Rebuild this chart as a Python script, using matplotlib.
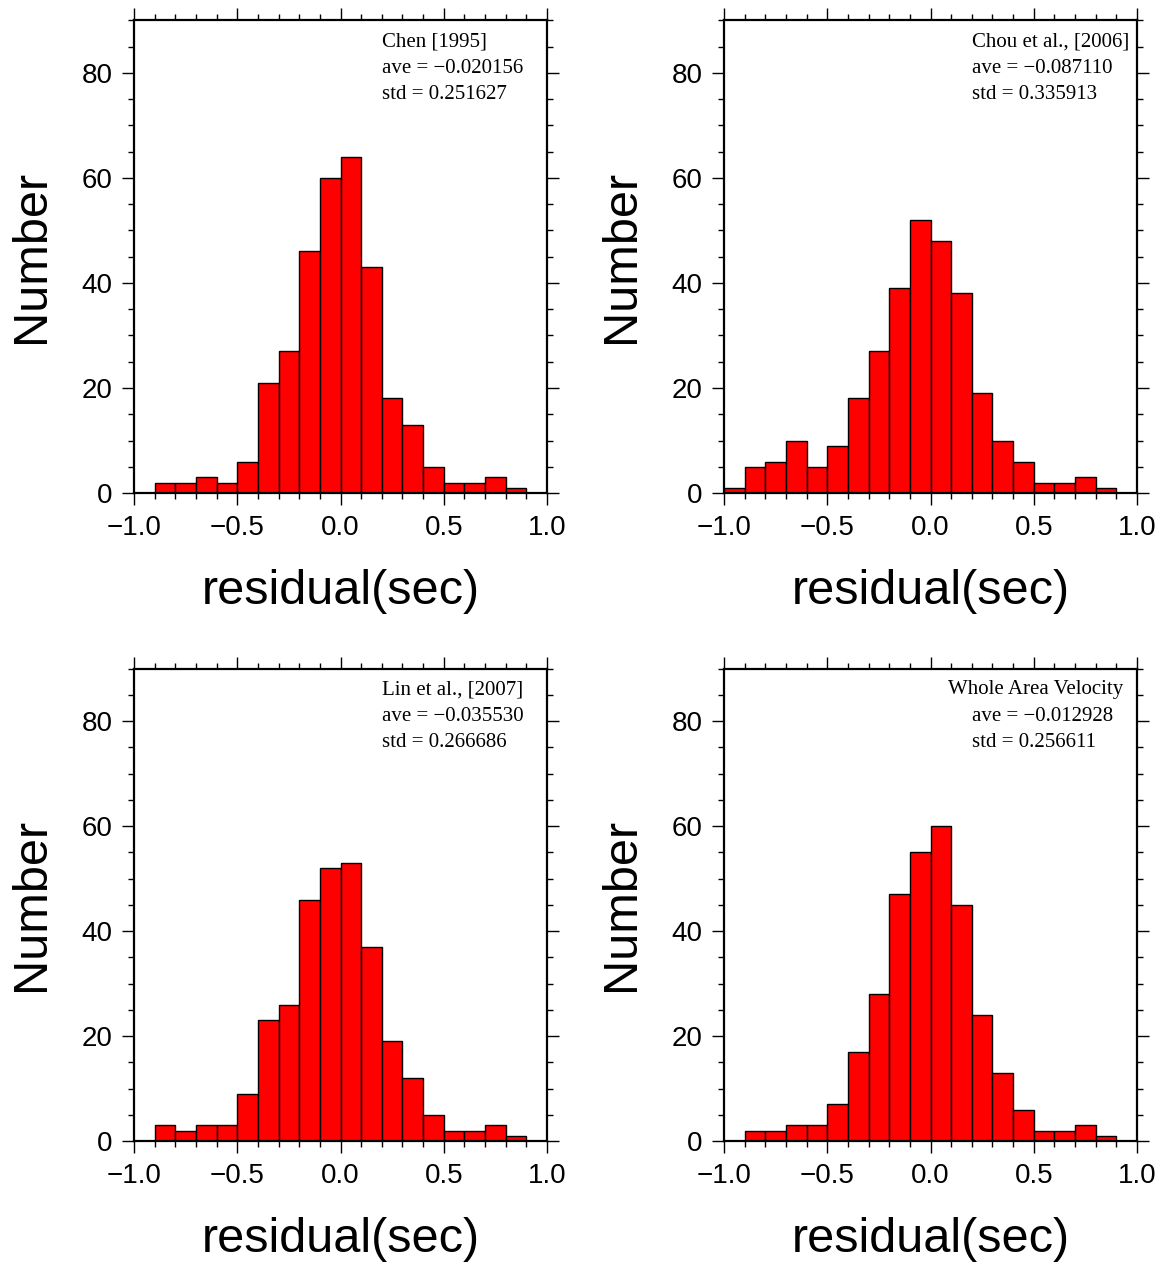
import matplotlib
matplotlib.use("Agg")
import matplotlib.pyplot as plt
from matplotlib.ticker import MultipleLocator
import numpy as np

# bin left edges (width 0.1) from -1.0 to 0.9
bin_edges = [-1.0, -0.9, -0.8, -0.7, -0.6, -0.5, -0.4, -0.3, -0.2, -0.1,
             0.0, 0.1, 0.2, 0.3, 0.4, 0.5, 0.6, 0.7, 0.8, 0.9]
bin_width = 0.1

counts_chen = [0, 2, 2, 3, 2, 6, 21, 27, 46, 60, 64, 43, 18, 13, 5, 2, 2, 3, 1, 0]
counts_chou = [1, 5, 6, 10, 5, 9, 18, 27, 39, 52, 48, 38, 19, 10, 6, 2, 2, 3, 1, 0]
counts_lin = [0, 3, 2, 3, 3, 9, 23, 26, 46, 52, 53, 37, 19, 12, 5, 2, 2, 3, 1, 0]
counts_whole = [0, 2, 2, 3, 3, 7, 17, 28, 47, 55, 60, 45, 24, 13, 6, 2, 2, 3, 1, 0]

titles = ["Chen [1995]", "Chou et al., [2006]", "Lin et al., [2007]", "Whole Area Velocity"]
aves = ["\u22120.020156", "\u22120.087110", "\u22120.035530", "\u22120.012928"]
stds = ["0.251627", "0.335913", "0.266686", "0.256611"]
all_counts = [counts_chen, counts_chou, counts_lin, counts_whole]

x_label = "residual(sec)"
y_label = "Number"

W, H = 1168, 1265
fig = plt.figure(figsize=(W / 100, H / 100), dpi=100)
fig.patch.set_facecolor("white")

ax_w = 413 / W
ax_h = 472.5 / H
lefts = [134 / W, 724 / W, 134 / W, 724 / W]
bottoms = [(H - 493) / H, (H - 493) / H, (H - 1141) / H, (H - 1141) / H]

sans = ["Liberation Sans", "DejaVu Sans"]
serif = ["Liberation Serif", "DejaVu Serif"]

for i in range(4):
    ax = fig.add_axes([lefts[i], bottoms[i], ax_w, ax_h])
    ax.bar(bin_edges, all_counts[i], width=bin_width, align="edge",
           color="#ff0000", edgecolor="black", linewidth=1.0, zorder=2)
    ax.set_xlim(-1.0, 1.0)
    ax.set_ylim(0, 90)
    ax.xaxis.set_major_locator(MultipleLocator(0.5))
    ax.xaxis.set_minor_locator(MultipleLocator(0.1))
    ax.yaxis.set_major_locator(MultipleLocator(20))
    ax.yaxis.set_minor_locator(MultipleLocator(5))
    ax.tick_params(which="both", direction="out", top=True, right=True,
                   labeltop=False, labelright=False, width=1.0, color="black")
    ax.tick_params(which="major", length=8.5, labelsize=20, pad=7)
    ax.tick_params(which="minor", length=4.3)
    for lab in ax.get_xticklabels() + ax.get_yticklabels():
        lab.set_fontfamily(sans)
    ax.xaxis.set_major_formatter(matplotlib.ticker.FuncFormatter(
        lambda v, p: ("%.1f" % v).replace("-", "\u2212")))
    ax.yaxis.set_major_formatter(matplotlib.ticker.FuncFormatter(
        lambda v, p: "%d" % v))
    for sp in ax.spines.values():
        sp.set_linewidth(1.6)
        sp.set_zorder(3)
    ax.set_xlabel(x_label, fontsize=35, family=sans)
    ax.set_ylabel(y_label, fontsize=35, family=sans)
    ax.xaxis.set_label_coords(0.5, -0.16)
    ax.yaxis.set_label_coords(-0.193, 0.5)

    tx = 0.542 if i == 3 else 0.600
    ax.text(tx, 0.955, titles[i], transform=ax.transAxes, fontsize=15,
            family=serif, va="center", ha="left")
    ax.text(0.600, 0.899, "ave = " + aves[i], transform=ax.transAxes,
            fontsize=15, family=serif, va="center", ha="left")
    ax.text(0.600, 0.843, "std = " + stds[i], transform=ax.transAxes,
            fontsize=15, family=serif, va="center", ha="left")

fig.savefig("out.png", dpi=100, facecolor="white")
